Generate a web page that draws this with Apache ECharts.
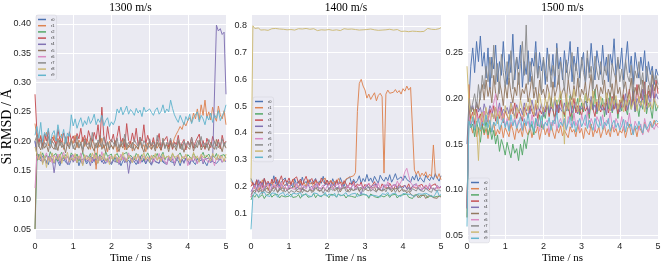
<!DOCTYPE html>
<html><head><meta charset="utf-8">
<script src="https://cdn.jsdelivr.net/npm/echarts@6/dist/echarts.min.js"></script>
<style>html,body{margin:0;padding:0;background:#fff}#c{width:664px;height:266px}</style>
</head><body><div id="c"></div>
<script>
// sampling grid (ns)
const time = [];
for (let i = 0; i <= 100; i++) time.push(+(i * 0.05).toFixed(2));
const seriesNames = ['r0','r1','r2','r3','r4','r5','r6','r7','r8','r9'];
const panelTitles = ['1300 m/s', '1400 m/s', '1500 m/s'];
const xTicks = [0, 1, 2, 3, 4, 5];

// ---------- 1300 m/s ----------
const v1300_r0 = [.200,.175,.168,.172,.163,.170,.166,.160,.174,.168,.162,.171,.165,.158,.169,.173,.164,.167,.160,.170,.166,.163,.172,.158,.168,.165,.170,.161,.167,.174,.163,.169,.159,.166,.171,.164,.168,.162,.170,.165,.160,.167,.172,.163,.169,.158,.166,.171,.164,.168,.162,.170,.165,.160,.167,.173,.164,.168,.161,.169,.166,.159,.171,.165,.168,.162,.170,.164,.167,.160,.172,.165,.168,.163,.170,.166,.158,.169,.164,.171,.167,.162,.168,.165,.160,.170,.166,.163,.169,.164,.158,.167,.171,.165,.168,.162,.166,.170,.164,.168,.165];
const v1300_r1 = [.230,.205,.195,.210,.188,.200,.215,.192,.203,.197,.210,.190,.205,.198,.212,.186,.200,.208,.194,.203,.196,.210,.189,.202,.195,.207,.191,.204,.198,.186,.201,.195,.152,.198,.190,.205,.188,.196,.182,.200,.192,.187,.198,.181,.194,.190,.203,.185,.196,.189,.200,.183,.195,.191,.186,.199,.188,.194,.182,.197,.190,.186,.201,.192,.188,.197,.184,.199,.191,.195,.187,.200,.194,.205,.212,.218,.225,.220,.232,.226,.235,.240,.232,.248,.238,.255,.236,.262,.244,.270,.240,.250,.236,.258,.242,.234,.260,.245,.238,.252,.228];
const v1300_r2 = [.050,.165,.178,.172,.180,.170,.176,.168,.182,.174,.171,.179,.166,.175,.181,.170,.177,.173,.168,.180,.175,.171,.178,.166,.174,.181,.169,.176,.172,.179,.167,.175,.180,.170,.177,.173,.168,.182,.174,.171,.178,.166,.175,.179,.172,.169,.177,.174,.181,.170,.176,.172,.168,.179,.175,.171,.177,.166,.174,.180,.173,.169,.176,.172,.179,.170,.175,.181,.168,.174,.177,.171,.178,.173,.167,.176,.180,.172,.175,.169,.177,.174,.170,.179,.173,.176,.168,.175,.181,.171,.174,.178,.170,.176,.172,.179,.168,.175,.173,.177,.171];
const v1300_r3 = [.280,.215,.198,.208,.192,.212,.200,.218,.196,.207,.210,.195,.220,.203,.198,.214,.205,.192,.216,.202,.209,.197,.213,.204,.222,.199,.210,.195,.218,.206,.200,.215,.203,.228,.198,.258,.210,.196,.225,.204,.199,.212,.193,.208,.226,.198,.205,.190,.230,.201,.196,.214,.199,.222,.193,.207,.200,.228,.195,.210,.198,.192,.206,.188,.200,.213,.185,.198,.195,.208,.190,.202,.186,.199,.194,.210,.189,.197,.203,.185,.200,.193,.207,.188,.199,.196,.212,.190,.201,.186,.205,.195,.189,.208,.198,.192,.203,.187,.210,.196,.200];
const v1300_r4 = [.200,.180,.172,.166,.175,.168,.162,.174,.165,.170,.146,.168,.175,.162,.171,.166,.173,.160,.169,.176,.164,.170,.163,.174,.167,.160,.172,.165,.169,.158,.173,.166,.171,.163,.175,.168,.161,.170,.165,.173,.162,.169,.164,.172,.160,.167,.174,.163,.170,.145,.168,.172,.164,.169,.161,.175,.166,.170,.163,.168,.172,.160,.171,.165,.168,.163,.174,.166,.169,.162,.172,.165,.170,.158,.168,.173,.164,.169,.162,.171,.166,.160,.170,.165,.172,.163,.168,.174,.161,.169,.166,.171,.163,.168,.165,.398,.388,.392,.382,.386,.280];
const v1300_r5 = [.050,.205,.192,.185,.198,.188,.194,.182,.200,.190,.186,.196,.184,.202,.189,.193,.180,.197,.187,.203,.191,.185,.199,.188,.195,.181,.200,.192,.186,.205,.190,.183,.197,.189,.210,.186,.194,.181,.199,.188,.193,.186,.201,.190,.182,.196,.188,.204,.185,.193,.189,.198,.184,.192,.187,.203,.190,.181,.195,.188,.200,.186,.193,.183,.198,.190,.185,.205,.189,.194,.182,.197,.188,.192,.184,.200,.187,.195,.181,.193,.190,.186,.199,.183,.194,.189,.202,.185,.192,.188,.196,.184,.198,.190,.186,.203,.189,.193,.182,.197,.188];
const v1300_r6 = [.120,.175,.168,.178,.165,.172,.180,.167,.174,.163,.176,.170,.178,.166,.173,.181,.168,.175,.164,.171,.177,.166,.174,.169,.180,.163,.172,.176,.167,.173,.165,.178,.170,.174,.166,.182,.169,.172,.164,.176,.170,.167,.175,.171,.163,.178,.168,.173,.166,.180,.170,.165,.174,.168,.177,.162,.171,.175,.167,.173,.169,.176,.164,.172,.168,.179,.166,.173,.170,.160,.175,.168,.174,.163,.171,.177,.166,.172,.169,.175,.158,.170,.166,.174,.168,.161,.172,.176,.165,.171,.168,.163,.174,.169,.158,.172,.167,.175,.164,.170,.166];
const v1300_r7 = [.200,.210,.190,.202,.186,.198,.193,.208,.188,.200,.195,.185,.203,.192,.198,.188,.206,.194,.190,.201,.187,.196,.209,.191,.199,.186,.204,.193,.197,.189,.215,.194,.188,.202,.196,.190,.207,.192,.199,.185,.203,.197,.191,.205,.188,.200,.194,.212,.190,.198,.193,.187,.203,.196,.191,.207,.189,.201,.195,.186,.204,.193,.199,.188,.210,.195,.190,.202,.187,.198,.194,.205,.191,.197,.189,.203,.196,.185,.200,.193,.199,.190,.206,.195,.188,.201,.194,.208,.191,.197,.189,.203,.195,.190,.200,.186,.198,.193,.204,.191,.199];
const v1300_r8 = [.190,.178,.168,.182,.160,.175,.155,.172,.165,.180,.163,.174,.168,.178,.162,.176,.170,.181,.165,.172,.167,.179,.163,.175,.170,.158,.177,.168,.173,.165,.180,.170,.176,.162,.174,.168,.179,.166,.172,.160,.175,.169,.178,.164,.173,.167,.181,.170,.165,.176,.171,.163,.175,.169,.178,.166,.172,.180,.168,.174,.164,.176,.170,.179,.167,.173,.165,.178,.171,.168,.175,.166,.180,.172,.169,.176,.163,.174,.170,.178,.167,.173,.168,.181,.170,.175,.164,.178,.172,.169,.176,.171,.166,.179,.173,.168,.177,.170,.175,.165,.178];
const v1300_r9 = [.210,.225,.205,.232,.198,.215,.208,.222,.195,.212,.218,.200,.228,.210,.205,.220,.196,.214,.208,.245,.226,.238,.222,.232,.240,.225,.235,.228,.242,.230,.236,.246,.228,.238,.232,.244,.226,.235,.240,.225,.233,.228,.236,.255,.248,.258,.245,.252,.260,.246,.254,.250,.244,.256,.248,.253,.242,.258,.250,.247,.255,.249,.244,.253,.257,.246,.251,.262,.248,.255,.250,.270,.256,.245,.238,.232,.244,.236,.228,.242,.235,.246,.230,.240,.237,.250,.233,.244,.238,.228,.243,.236,.248,.232,.245,.239,.252,.235,.243,.250,.262];

// ---------- 1400 m/s ----------
const v1400_r0 = [.230,.212,.200,.225,.195,.218,.208,.230,.198,.215,.222,.205,.240,.210,.226,.200,.218,.212,.232,.203,.220,.214,.198,.228,.208,.221,.205,.235,.211,.219,.202,.226,.209,.216,.230,.204,.221,.212,.238,.207,.224,.215,.203,.229,.211,.220,.206,.233,.214,.201,.225,.218,.236,.209,.227,.213,.222,.240,.212,.230,.218,.245,.220,.232,.215,.238,.224,.212,.242,.228,.219,.235,.222,.244,.216,.230,.248,.225,.218,.236,.222,.240,.226,.232,.215,.238,.224,.246,.220,.234,.228,.216,.242,.230,.222,.238,.226,.248,.232,.220,.240];
const v1400_r1 = [.220,.205,.192,.215,.188,.200,.225,.196,.210,.185,.203,.218,.194,.207,.199,.222,.190,.212,.201,.196,.215,.205,.228,.198,.210,.193,.220,.204,.214,.200,.226,.208,.216,.197,.222,.210,.203,.218,.212,.232,.206,.215,.224,.208,.220,.212,.230,.216,.223,.210,.228,.222,.235,.228,.240,.252,.480,.585,.600,.575,.560,.530,.545,.525,.538,.550,.520,.540,.548,.535,.250,.545,.560,.548,.555,.552,.562,.550,.558,.545,.565,.556,.575,.560,.570,.568,.262,.245,.258,.236,.250,.240,.255,.232,.246,.238,.355,.242,.230,.248,.225];
const v1400_r2 = [.150,.168,.160,.172,.158,.165,.170,.155,.167,.162,.174,.160,.168,.163,.171,.157,.166,.170,.161,.168,.164,.172,.159,.166,.162,.170,.156,.168,.164,.171,.160,.167,.163,.174,.158,.169,.165,.161,.170,.163,.167,.158,.171,.164,.168,.160,.173,.165,.162,.169,.157,.166,.171,.163,.168,.159,.174,.165,.161,.170,.164,.168,.156,.172,.165,.162,.169,.158,.167,.173,.161,.165,.170,.159,.168,.163,.171,.157,.166,.162,.169,.164,.172,.160,.167,.155,.168,.163,.170,.158,.166,.161,.169,.157,.165,.171,.160,.167,.163,.158,.165];
const v1400_r3 = [.200,.215,.198,.225,.205,.218,.196,.230,.210,.220,.202,.228,.212,.235,.205,.222,.240,.210,.226,.215,.232,.208,.225,.218,.236,.212,.228,.205,.222,.238,.214,.220,.230,.209,.226,.215,.204,.232,.218,.210,.224,.206,.220,.212,.198,.225,.208,.216,.200,.222,.210,.195,.214,.205,.220,.198,.210,.202,.216,.192,.208,.200,.212,.195,.206,.218,.198,.204,.190,.210,.199,.206,.194,.212,.200,.188,.205,.196,.210,.198,.192,.204,.195,.210,.190,.200,.206,.193,.202,.196,.208,.192,.205,.198,.188,.203,.196,.210,.194,.200,.197];
const v1400_r4 = [.180,.195,.210,.188,.225,.200,.215,.185,.205,.198,.212,.190,.203,.195,.218,.186,.208,.200,.194,.212,.189,.205,.198,.215,.192,.200,.210,.187,.204,.196,.208,.193,.202,.188,.210,.198,.205,.190,.200,.195,.212,.186,.203,.197,.208,.192,.200,.188,.206,.194,.199,.205,.190,.198,.210,.187,.202,.195,.170,.200,.192,.207,.194,.189,.203,.196,.210,.191,.198,.185,.204,.197,.206,.190,.200,.194,.208,.188,.202,.196,.193,.205,.190,.199,.187,.203,.196,.210,.192,.198,.186,.200,.195,.188,.206,.193,.199,.190,.204,.196,.201];
const v1400_r5 = [.160,.185,.175,.192,.180,.196,.178,.188,.183,.195,.176,.190,.184,.198,.179,.193,.186,.181,.197,.188,.182,.194,.187,.200,.183,.190,.178,.196,.185,.192,.180,.188,.195,.182,.199,.186,.191,.184,.197,.189,.181,.193,.186,.200,.184,.190,.195,.180,.192,.187,.198,.183,.191,.196,.185,.189,.200,.182,.194,.188,.190,.197,.184,.192,.186,.199,.181,.190,.195,.183,.188,.192,.186,.196,.180,.190,.185,.193,.179,.188,.182,.186,.176,.184,.172,.178,.162,.170,.158,.166,.160,.168,.155,.164,.159,.167,.158,.163,.156,.166,.160];
const v1400_r6 = [.160,.190,.205,.182,.198,.212,.186,.200,.193,.208,.185,.197,.210,.188,.203,.195,.215,.190,.200,.186,.206,.194,.201,.189,.212,.196,.184,.205,.198,.191,.209,.200,.187,.204,.195,.213,.190,.198,.206,.185,.202,.196,.208,.189,.200,.194,.211,.187,.203,.197,.190,.205,.192,.199,.210,.188,.202,.195,.207,.190,.200,.193,.212,.198,.186,.205,.196,.214,.191,.200,.208,.195,.218,.202,.190,.209,.198,.220,.205,.212,.232,.255,.268,.240,.215,.205,.196,.210,.192,.203,.188,.198,.206,.190,.212,.195,.200,.186,.204,.193,.199];
const v1400_r7 = [.170,.182,.175,.190,.178,.186,.172,.192,.180,.185,.176,.189,.181,.194,.177,.186,.183,.196,.179,.188,.174,.185,.191,.178,.187,.182,.195,.176,.189,.184,.180,.192,.177,.186,.183,.198,.180,.188,.175,.190,.184,.179,.193,.185,.181,.196,.178,.189,.184,.200,.182,.187,.180,.194,.185,.178,.191,.186,.197,.181,.189,.184,.199,.182,.190,.186,.179,.195,.188,.183,.192,.180,.196,.187,.184,.193,.178,.190,.186,.199,.182,.189,.184,.195,.180,.192,.187,.183,.197,.185,.190,.181,.194,.186,.189,.178,.195,.184,.190,.187,.183];
const v1400_r8 = [.220,.800,.790,.786,.792,.784,.788,.785,.791,.783,.787,.789,.784,.790,.786,.788,.782,.787,.790,.785,.788,.786,.791,.784,.787,.789,.783,.788,.786,.790,.785,.787,.784,.789,.786,.782,.788,.785,.790,.784,.787,.786,.789,.783,.788,.785,.787,.782,.786,.789,.784,.787,.785,.788,.783,.786,.789,.784,.787,.785,.781,.786,.784,.788,.782,.785,.787,.783,.786,.784,.781,.785,.783,.787,.780,.784,.782,.786,.781,.779,.783,.780,.784,.778,.782,.780,.783,.779,.781,.778,.782,.779,.785,.790,.784,.787,.781,.786,.782,.789,.793];
const v1400_r9 = [.040,.165,.178,.170,.162,.175,.168,.180,.166,.172,.163,.176,.169,.174,.160,.171,.167,.178,.164,.173,.169,.161,.175,.168,.172,.165,.177,.163,.170,.174,.166,.171,.162,.176,.169,.173,.164,.170,.167,.178,.163,.172,.168,.165,.175,.160,.171,.174,.166,.169,.177,.164,.170,.172,.167,.175,.162,.169,.173,.166,.171,.176,.163,.170,.168,.174,.165,.171,.160,.173,.167,.170,.178,.164,.172,.169,.175,.166,.171,.163,.174,.168,.172,.165,.170,.176,.162,.169,.173,.167,.171,.164,.175,.170,.168,.173,.162,.171,.185,.166,.170];

// ---------- 1500 m/s ----------
const v1500_r0 = [.150,.195,.235,.255,.228,.262,.240,.268,.235,.250,.222,.255,.210,.245,.232,.258,.218,.240,.225,.262,.230,.215,.248,.228,.270,.220,.245,.232,.258,.212,.240,.226,.252,.218,.244,.235,.262,.222,.250,.230,.242,.215,.255,.236,.225,.248,.212,.260,.232,.245,.220,.252,.228,.240,.262,.218,.246,.230,.256,.222,.238,.250,.215,.244,.228,.260,.235,.220,.252,.238,.226,.258,.230,.245,.218,.248,.236,.265,.225,.242,.232,.255,.220,.240,.262,.228,.246,.215,.250,.235,.222,.245,.230,.252,.218,.240,.226,.235,.215,.232,.225];
const v1500_r1 = [.070,.215,.170,.162,.175,.158,.168,.164,.172,.160,.167,.156,.170,.163,.174,.159,.166,.161,.171,.157,.168,.163,.158,.172,.165,.155,.169,.162,.167,.158,.173,.164,.160,.170,.157,.166,.162,.169,.155,.165,.171,.160,.167,.158,.172,.163,.156,.168,.162,.170,.159,.165,.161,.157,.169,.163,.166,.158,.171,.162,.167,.156,.168,.163,.160,.172,.158,.166,.162,.169,.157,.164,.170,.160,.166,.158,.171,.163,.167,.159,.165,.162,.169,.157,.166,.172,.160,.164,.168,.158,.170,.165,.161,.174,.167,.163,.172,.168,.176,.170,.173];
const v1500_r2 = [.070,.180,.168,.172,.158,.175,.165,.152,.170,.162,.176,.160,.168,.155,.165,.150,.160,.142,.155,.148,.138,.152,.143,.135,.150,.140,.145,.132,.150,.138,.155,.145,.160,.165,.172,.160,.178,.170,.182,.168,.185,.178,.195,.182,.200,.188,.175,.198,.185,.205,.190,.180,.196,.186,.203,.175,.192,.188,.200,.182,.195,.185,.205,.190,.178,.198,.187,.210,.183,.194,.189,.200,.180,.195,.188,.206,.184,.192,.199,.178,.196,.186,.202,.190,.182,.198,.188,.210,.185,.193,.180,.197,.188,.204,.183,.195,.190,.178,.200,.186,.192];
const v1500_r3 = [.080,.190,.178,.185,.172,.188,.176,.183,.170,.186,.179,.174,.188,.180,.192,.175,.184,.178,.190,.173,.186,.181,.176,.189,.183,.195,.178,.187,.182,.175,.190,.184,.179,.192,.186,.180,.194,.177,.188,.183,.190,.185,.196,.180,.191,.187,.178,.193,.184,.198,.186,.182,.190,.195,.179,.188,.200,.184,.192,.187,.181,.194,.186,.191,.183,.198,.188,.180,.196,.190,.185,.193,.187,.199,.184,.191,.202,.188,.195,.183,.198,.190,.204,.186,.196,.210,.192,.200,.188,.215,.195,.205,.198,.218,.192,.208,.200,.212,.196,.220,.205];
const v1500_r4 = [.080,.195,.188,.192,.183,.196,.185,.190,.180,.194,.186,.182,.192,.187,.178,.190,.184,.195,.181,.188,.185,.190,.183,.196,.187,.180,.193,.185,.189,.182,.195,.186,.191,.183,.198,.188,.181,.192,.186,.194,.180,.189,.196,.184,.190,.187,.199,.182,.193,.188,.185,.195,.186,.191,.200,.184,.189,.196,.183,.192,.188,.186,.197,.190,.184,.202,.188,.193,.185,.198,.190,.187,.195,.182,.200,.191,.186,.204,.189,.194,.185,.198,.190,.205,.187,.196,.192,.208,.186,.200,.194,.190,.210,.195,.188,.203,.192,.215,.196,.205,.199];
const v1500_r5 = [.080,.192,.185,.190,.182,.195,.188,.205,.215,.198,.220,.202,.212,.195,.225,.205,.198,.218,.208,.192,.215,.200,.222,.206,.195,.212,.203,.228,.198,.210,.205,.216,.196,.208,.224,.200,.212,.195,.220,.204,.210,.198,.215,.206,.192,.218,.202,.210,.225,.200,.208,.212,.196,.220,.205,.198,.214,.202,.222,.196,.210,.204,.218,.195,.210,.226,.200,.208,.215,.198,.212,.205,.220,.196,.210,.202,.216,.198,.225,.205,.212,.195,.210,.218,.200,.206,.222,.198,.212,.204,.215,.200,.220,.206,.195,.214,.202,.226,.208,.216,.210];
const v1500_r6 = [.080,.180,.172,.176,.168,.182,.175,.170,.178,.186,.174,.180,.172,.188,.195,.205,.182,.190,.176,.184,.170,.178,.166,.174,.170,.180,.168,.176,.172,.165,.178,.170,.175,.166,.182,.172,.168,.178,.164,.175,.170,.168,.176,.162,.174,.170,.180,.166,.173,.178,.169,.175,.165,.180,.172,.168,.184,.170,.176,.165,.182,.174,.170,.186,.168,.178,.172,.165,.180,.175,.170,.182,.168,.176,.172,.185,.170,.166,.178,.173,.168,.180,.165,.176,.170,.184,.168,.162,.175,.170,.165,.172,.160,.178,.168,.163,.175,.170,.166,.172,.168];
const v1500_r7 = [.080,.200,.185,.195,.205,.190,.215,.198,.225,.210,.235,.218,.245,.222,.258,.215,.238,.205,.248,.228,.212,.240,.220,.252,.210,.232,.245,.215,.238,.262,.225,.280,.215,.240,.228,.210,.250,.222,.235,.205,.245,.230,.218,.248,.212,.236,.224,.255,.215,.240,.228,.208,.242,.220,.232,.250,.215,.238,.225,.212,.245,.228,.218,.252,.222,.235,.210,.246,.230,.220,.240,.215,.235,.225,.248,.212,.238,.228,.220,.245,.218,.232,.210,.242,.225,.218,.236,.208,.230,.222,.240,.215,.228,.205,.235,.220,.212,.230,.218,.225,.215];
const v1500_r8 = [.235,.195,.182,.175,.188,.170,.132,.178,.185,.172,.190,.176,.168,.184,.178,.190,.172,.186,.180,.175,.192,.182,.176,.195,.185,.178,.190,.184,.198,.188,.180,.195,.186,.200,.190,.182,.198,.188,.205,.192,.185,.200,.190,.206,.195,.188,.202,.193,.198,.208,.190,.150,.205,.188,.200,.192,.210,.195,.185,.202,.198,.190,.205,.196,.200,.188,.208,.194,.199,.186,.202,.195,.190,.206,.198,.186,.200,.193,.203,.188,.196,.200,.185,.198,.192,.204,.188,.195,.199,.186,.202,.192,.198,.185,.204,.190,.196,.188,.200,.194,.190];
const v1500_r9 = [.060,.175,.168,.180,.165,.172,.178,.166,.174,.170,.182,.168,.176,.163,.174,.170,.180,.166,.172,.178,.168,.175,.164,.182,.170,.176,.167,.173,.180,.165,.177,.170,.184,.168,.175,.163,.178,.172,.169,.181,.166,.174,.170,.179,.165,.176,.172,.185,.168,.174,.170,.178,.166,.173,.180,.168,.175,.163,.172,.178,.169,.174,.182,.167,.176,.170,.165,.178,.172,.168,.180,.166,.174,.170,.178,.164,.172,.176,.168,.173,.165,.170,.177,.163,.174,.168,.172,.160,.170,.166,.175,.168,.162,.172,.166,.170,.175,.168,.172,.176,.174];

const panel1300 = [v1300_r0,v1300_r1,v1300_r2,v1300_r3,v1300_r4,v1300_r5,v1300_r6,v1300_r7,v1300_r8,v1300_r9];
const panel1400 = [v1400_r0,v1400_r1,v1400_r2,v1400_r3,v1400_r4,v1400_r5,v1400_r6,v1400_r7,v1400_r8,v1400_r9];
const panel1500 = [v1500_r0,v1500_r1,v1500_r2,v1500_r3,v1500_r4,v1500_r5,v1500_r6,v1500_r7,v1500_r8,v1500_r9];
const panels = [panel1300, panel1400, panel1500];

// ---------- styling / layout ----------
const palette = ['#4C72B0','#DD8452','#55A868','#C44E52','#8172B3','#937860','#DA8BC3','#8C8C8C','#CCB974','#64B5CD'];
const grids = [
  {left: 35, top: 14, width: 191, height: 225},
  {left: 251, top: 14, width: 190, height: 225},
  {left: 467, top: 14, width: 191, height: 225}
];
const yCfg = [
  {min: 0.033, max: 0.417, split: 8, dec: 2},
  {min: 0.004, max: 0.844, split: 8, dec: 1},
  {min: 0.0464, max: 0.292, split: 5, dec: 2}
];
const legendPos = [{left: 36, top: 15}, {left: 253, top: 97}, {left: 469, top: 178}];
const SANS = 'Liberation Sans';
const SERIF = 'Liberation Serif';

const option = {
  animation: false,
  backgroundColor: '#ffffff',
  color: palette,
  grid: grids.map(g => Object.assign({show: true, backgroundColor: '#EAEAF2', borderWidth: 0,
    containLabel: false, outerBoundsMode: 'none'}, g)),
  graphic: grids.map((g, p) => ({
    type: 'text', x: g.left + g.width / 2, y: 2,
    style: {text: panelTitles[p], font: '11.5px "' + SERIF + '"', fill: '#000',
      textAlign: 'center', textVerticalAlign: 'top'}
  })),
  xAxis: grids.map((g, p) => ({
    type: 'value', gridIndex: p, min: xTicks[0], max: xTicks[xTicks.length - 1], interval: 1,
    axisLine: {show: false}, axisTick: {show: false},
    axisLabel: {fontSize: 9, fontFamily: SANS, color: '#262626', margin: 3},
    splitLine: {show: true, lineStyle: {color: '#ffffff', width: 1}},
    name: 'Time / ns', nameLocation: 'middle', nameGap: 14, nameMoveOverlap: false,
    nameTextStyle: {fontFamily: SERIF, fontSize: 11, color: '#000'}
  })),
  yAxis: grids.map((g, p) => ({
    type: 'value', gridIndex: p, min: yCfg[p].min, max: yCfg[p].max, splitNumber: yCfg[p].split,
    axisLine: {show: false}, axisTick: {show: false},
    axisLabel: {fontSize: 9, fontFamily: SANS, color: '#262626', margin: 4,
      showMinLabel: false, showMaxLabel: false,
      formatter: v => v.toFixed(yCfg[p].dec)},
    splitLine: {show: true, lineStyle: {color: '#ffffff', width: 1}},
    name: p === 0 ? 'Si RMSD / Å' : '', nameLocation: 'middle', nameGap: 21, nameMoveOverlap: false,
    nameTextStyle: {fontFamily: SERIF, fontSize: 14, color: '#000'}
  })),
  legend: legendPos.map(pos => ({
    data: seriesNames, orient: 'vertical', left: pos.left, top: pos.top,
    icon: 'rect', itemWidth: 8, itemHeight: 1.5, itemGap: 1.2,
    padding: [2, 2, 2, 2], selectedMode: false,
    textStyle: {fontSize: 4, lineHeight: 5, color: '#333', fontFamily: SANS},
    backgroundColor: 'rgba(234,234,242,0.8)', borderColor: '#d0d0d8', borderWidth: 0.5, borderRadius: 2
  })),
  series: []
};

panels.forEach((vals, p) => {
  vals.forEach((arr, k) => {
    option.series.push({
      type: 'line', name: seriesNames[k], xAxisIndex: p, yAxisIndex: p,
      data: arr.map((v, i) => [time[i], v]),
      symbol: 'none', showSymbol: false,
      lineStyle: {width: 1, color: palette[k], opacity: 0.95},
      itemStyle: {color: palette[k]},
      emphasis: {disabled: true}
    });
  });
});

const chart = echarts.init(document.getElementById('c'), null, {renderer: 'canvas'});
chart.setOption(option);
</script>
</body></html>
